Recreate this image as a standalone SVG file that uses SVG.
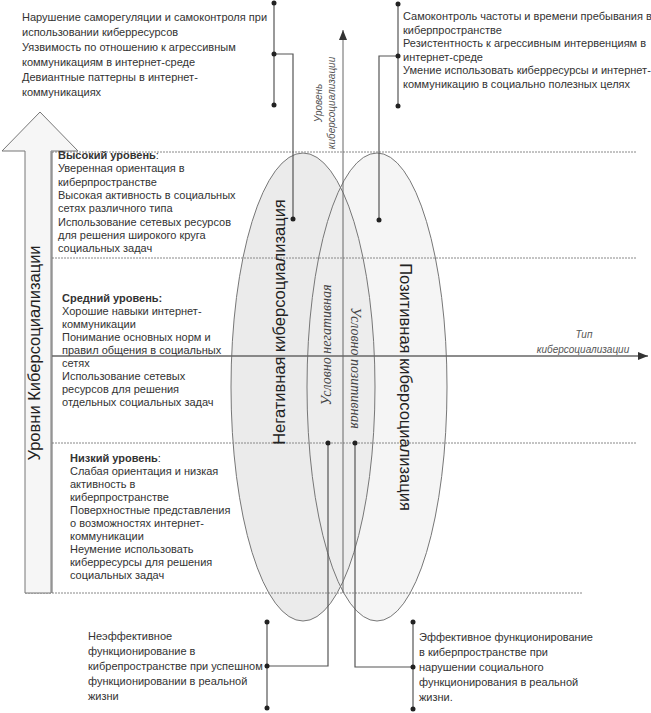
<svg xmlns="http://www.w3.org/2000/svg" width="651" height="713" viewBox="0 0 651 713">
<style>
.t{font-family:"Liberation Sans",Arial,sans-serif;font-size:11px;fill:#333}
.b{font-weight:bold}
.ax{font-family:"Liberation Sans",Arial,sans-serif;font-size:10px;font-style:italic;fill:#555}
.big{font-family:"Liberation Sans",Arial,sans-serif;font-size:16.5px;fill:#222}
.it{font-family:"Liberation Serif","Times New Roman",serif;font-size:14px;font-style:italic;fill:#444}
.dash{stroke:#888;stroke-width:1;stroke-dasharray:2 1;fill:none}
.ln{stroke:#555;stroke-width:1.2;fill:none}
.dot{fill:#222}
</style>
<defs>
<marker id="ah" viewBox="0 0 10 8" refX="10" refY="4" markerWidth="10" markerHeight="8" markerUnits="userSpaceOnUse" orient="auto">
<path d="M0,0 L10,4 L0,8 z" fill="#333"/>
</marker>
</defs>
<rect width="651" height="713" fill="#fff"/>

<g id="ellipses">
<ellipse id="negative" cx="303" cy="387" rx="72" ry="234" fill="#ebebeb"/>
<ellipse id="positive" cx="377" cy="387" rx="70" ry="234" fill="#eeeeee" fill-opacity="0.6"/>
<ellipse cx="303" cy="387" rx="72" ry="234" fill="none" stroke="#777" stroke-width="1"/>
<ellipse cx="377" cy="387" rx="70" ry="234" fill="none" stroke="#777" stroke-width="1"/>
</g>

<g id="grid">
<line class="dash" x1="52" y1="152" x2="636" y2="152"/>
<line class="dash" x1="52" y1="258" x2="636" y2="258"/>
<line class="dash" x1="25" y1="443" x2="636" y2="443"/>
<line class="dash" x1="25" y1="593" x2="583" y2="593"/>
<line stroke="#666" stroke-width="1" x1="52" y1="152" x2="52" y2="593"/>
</g>

<g id="level-arrow">
<polygon points="40,112 78,151 51,151 51,593 25,593 25,151 2,151" fill="#f6f6f6" stroke="#777" stroke-width="1"/>
<text class="big" transform="translate(40,353) rotate(-90)" text-anchor="middle">Уровни Киберсоциализации</text>
</g>

<g id="axes">
<line x1="52" y1="356" x2="648" y2="356" stroke="#666" stroke-width="1.5" marker-end="url(#ah)"/>
<line x1="343" y1="593" x2="343" y2="30" stroke="#666" stroke-width="1" marker-end="url(#ah)"/>
<text class="ax" x="584" y="338" text-anchor="middle">Тип</text>
<text class="ax" x="583" y="353" text-anchor="middle">киберсоциализации</text>
<g transform="translate(322,103) rotate(-90)">
<text class="ax" x="0" y="0" text-anchor="middle">Уровень</text>
<text class="ax" x="0" y="12.5" text-anchor="middle">киберсоциализации</text>
</g>
</g>

<g id="ellipse-labels">
<text class="big" transform="translate(285,322) rotate(-90)" text-anchor="middle">Негативная киберсоциализация</text>
<text class="big" transform="translate(400,387) rotate(90)" text-anchor="middle">Позитивная киберсоциализация</text>
<text class="it" transform="translate(331,345) rotate(-90)" text-anchor="middle">Условно негативная</text>
<text class="it" transform="translate(351,368) rotate(90)" text-anchor="middle">Условно позитивная</text>
</g>

<g id="level-high">
<text class="t" x="58" y="159"><tspan class="b">Высокий уровень</tspan>:</text>
<text class="t" x="58" y="172">Уверенная ориентация в</text>
<text class="t" x="58" y="185.5">киберпространстве</text>
<text class="t" x="58" y="199">Высокая активность в социальных</text>
<text class="t" x="58" y="212">сетях различного типа</text>
<text class="t" x="58" y="225.5">Использование  сетевых ресурсов</text>
<text class="t" x="58" y="238.5">для решения широкого круга</text>
<text class="t" x="58" y="252">социальных задач</text>
</g>

<g id="level-middle">
<text class="t b" x="62" y="302">Средний уровень:</text>
<text class="t" x="62" y="315">Хорошие навыки интернет-</text>
<text class="t" x="62" y="328">коммуникации</text>
<text class="t" x="62" y="341">Понимание основных норм и</text>
<text class="t" x="62" y="354">правил общения в социальных</text>
<text class="t" x="62" y="367">сетях</text>
<text class="t" x="62" y="380">Использование сетевых</text>
<text class="t" x="62" y="393">ресурсов для решения</text>
<text class="t" x="62" y="406">отдельных социальных задач</text>
</g>

<g id="level-low">
<text class="t" x="70" y="462"><tspan class="b">Низкий уровень</tspan>:</text>
<text class="t" x="70" y="475">Слабая ориентация и низкая</text>
<text class="t" x="70" y="488">активность в</text>
<text class="t" x="70" y="501">киберпространстве</text>
<text class="t" x="70" y="514">Поверхностные представления</text>
<text class="t" x="70" y="527">о возможностях интернет-</text>
<text class="t" x="70" y="540">коммуникации</text>
<text class="t" x="70" y="553">Неумение использовать</text>
<text class="t" x="70" y="566">киберресурсы для решения</text>
<text class="t" x="70" y="579">социальных задач</text>
</g>

<g id="note-negative">
<text class="t" x="22" y="21">Нарушение саморегуляции и самоконтроля при</text>
<text class="t" x="22" y="36">использовании киберресурсов</text>
<text class="t" x="22" y="51">Уязвимость по отношению к агрессивным</text>
<text class="t" x="22" y="66">коммуникациям в интернет-среде</text>
<text class="t" x="22" y="81">Девиантные паттерны в интернет-</text>
<text class="t" x="22" y="96">коммуникациях</text>
</g>

<g id="note-positive">
<text class="t" x="403" y="20">Самоконтроль частоты и времени пребывания в</text>
<text class="t" x="403" y="33.5">киберпространстве</text>
<text class="t" x="403" y="47">Резистентность к агрессивным интервенциям в</text>
<text class="t" x="403" y="60.5">интернет-среде</text>
<text class="t" x="403" y="74">Умение использовать киберресурсы и интернет-</text>
<text class="t" x="403" y="87.5">коммуникацию в социально полезных целях</text>
</g>

<g id="note-cond-negative">
<text class="t" x="88" y="640">Неэффективное</text>
<text class="t" x="88" y="655">функционирование в</text>
<text class="t" x="88" y="670">кибрепространстве при успешном</text>
<text class="t" x="88" y="685">функционировании в реальной</text>
<text class="t" x="88" y="700">жизни</text>
</g>

<g id="note-cond-positive">
<text class="t" x="419" y="641">Эффективное функционирование</text>
<text class="t" x="419" y="656">в киберпространстве при</text>
<text class="t" x="419" y="671">нарушении социального</text>
<text class="t" x="419" y="686">функционирования в реальной</text>
<text class="t" x="419" y="701">жизни.</text>
</g>

<g id="connectors">
<line class="ln" x1="274" y1="3" x2="274" y2="105"/>
<polyline class="ln" points="274,54 293,54 293,219"/>
<line class="ln" x1="398" y1="4" x2="398" y2="106"/>
<polyline class="ln" points="398,56 379,56 379,220"/>
<line class="ln" x1="267" y1="622" x2="267" y2="708"/>
<polyline class="ln" points="267,666 328,666 328,443"/>
<line class="ln" x1="413" y1="622" x2="413" y2="709"/>
<polyline class="ln" points="413,667 355,667 355,443"/>
<circle class="dot" cx="274" cy="3" r="2.5"/>
<circle class="dot" cx="274" cy="54" r="2.5"/>
<circle class="dot" cx="274" cy="105" r="2.5"/>
<circle class="dot" cx="293" cy="219" r="2.5"/>
<circle class="dot" cx="398" cy="4" r="2.5"/>
<circle class="dot" cx="398" cy="56" r="2.5"/>
<circle class="dot" cx="398" cy="106" r="2.5"/>
<circle class="dot" cx="379" cy="220" r="2.5"/>
<circle class="dot" cx="267" cy="622" r="2.5"/>
<circle class="dot" cx="267" cy="666" r="2.5"/>
<circle class="dot" cx="267" cy="708" r="2.5"/>
<circle class="dot" cx="328" cy="443" r="2.5"/>
<circle class="dot" cx="413" cy="622" r="2.5"/>
<circle class="dot" cx="413" cy="667" r="2.5"/>
<circle class="dot" cx="413" cy="709" r="2.5"/>
<circle class="dot" cx="355" cy="443" r="2.5"/>
</g>
</svg>
